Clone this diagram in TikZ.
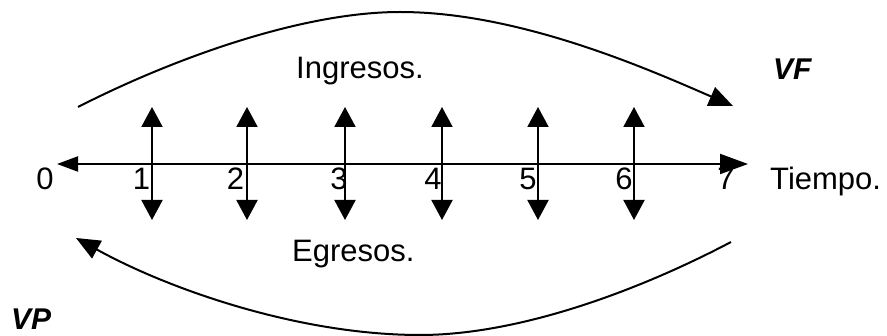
\documentclass[tikz,border=0pt]{standalone}
\usepackage{fontspec}
\setmainfont{Liberation Sans}
\usetikzlibrary{arrows.meta}
\begin{document}
\begin{tikzpicture}[x=1pt,y=-1pt,
  lbl/.style={inner sep=0pt,font=\fontsize{31}{36}\selectfont},
  vlbl/.style={inner sep=0pt,font=\fontsize{30}{36}\selectfont\bfseries\itshape},
  axisline/.style={line width=2pt},
  flow/.style={line width=2pt,{Triangle[length=20pt,width=21pt]}-{Triangle[length=20pt,width=21pt]}},
  curve/.style={line width=2pt,-{Triangle[length=24pt,width=20pt]}}]
\useasboundingbox (0,0) rectangle (887,336);
% axis
\coordinate (axL) at (57,164);
\coordinate (axR) at (748,164);
\draw[axisline,{Triangle[length=21pt,width=15pt]}-{Triangle[length=28pt,width=20pt]}] (axL) -- (axR);
% vertical flows
\foreach \i/\x in {1/152,2/247,3/345,4/442,5/538,6/634}{
  \coordinate (up\i) at (\x,107);
  \coordinate (dn\i) at (\x,220);
  \draw[flow] (up\i) -- (dn\i);
}
% digits
\foreach \d/\x in {0/45,1/141.5,2/235.5,3/339,4/433,5/528,6/624,7/726}{
  \node[lbl,anchor=base] (n\d) at (\x,190) {\d};
}
\node[lbl,anchor=base west] (tiempo) at (770,190) {Tiempo.};
\node[lbl,anchor=base west] (ing) at (296,79) {Ingresos.};
\node[lbl,anchor=base west] (egr) at (292,262) {Egresos.};
\node[vlbl,anchor=base west] (vf) at (773,80) {VF};
\node[vlbl,anchor=base west] (vp) at (11,330) {VP};
% curves
\coordinate (ts) at (78,107);
\coordinate (tp) at (400,12);
\coordinate (te) at (733,106);
\coordinate (bs) at (731,242);
\coordinate (bp) at (420,335);
\coordinate (be) at (76,238);
\draw[curve] (ts) .. controls (170,60) and (300,12) .. (tp)
  .. controls (520,12) and (650,70) .. (te);
\draw[curve] (bs) .. controls (640,290) and (520,335) .. (bp)
  .. controls (300,335) and (170,290) .. (be);
\end{tikzpicture}
\end{document}
